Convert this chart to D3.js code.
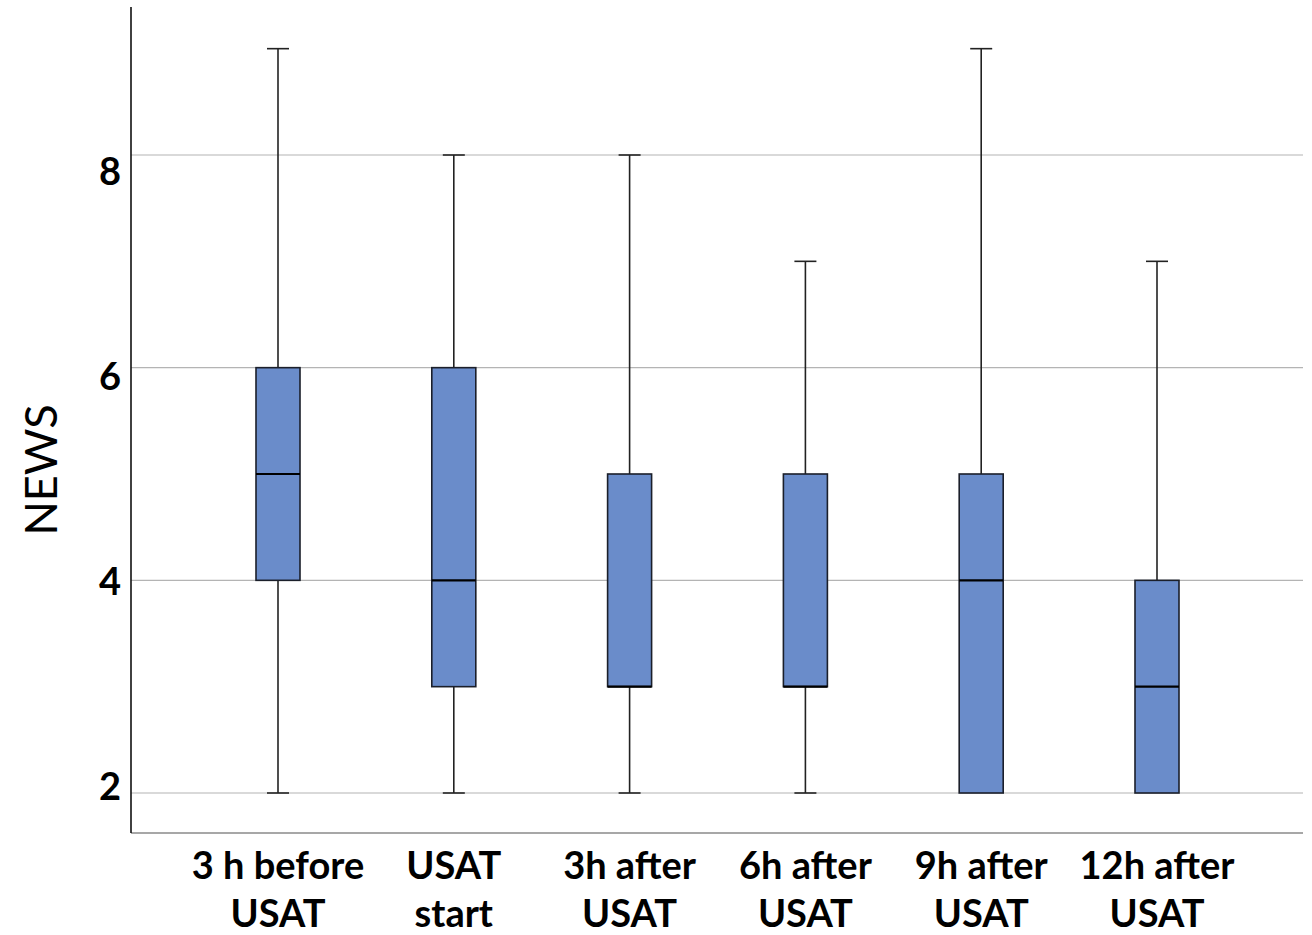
<!DOCTYPE html>
<html>
<head>
<meta charset="utf-8">
<script src="https://cdn.jsdelivr.net/npm/d3@7"></script>
<style>
  html, body { margin: 0; padding: 0; background: #fff; }
  svg { display: block; }
</style>
</head>
<body>
<svg id="chart" width="1312" height="935"></svg>
<script>
const categories = ["3 h before|USAT", "USAT|start", "3h after|USAT", "6h after|USAT", "9h after|USAT", "12h after|USAT"];
const mins    = [2, 2, 2, 2, 2, 2];
const q1s     = [4, 3, 3, 3, 2, 2];
const medians = [5, 4, 3, 3, 4, 3];
const q3s     = [6, 6, 5, 5, 5, 4];
const maxs    = [9, 8, 8, 7, 9, 7];
const yTicks  = [2, 4, 6, 8];
const yTitle  = "NEWS";

const svg = d3.select("#chart");
const axisLeftX = 131, plotRight = 1303, plotTop = 7, plotBottom = 833;

const x = d3.scalePoint().domain(categories).range([278, 1157]);
const y = d3.scaleLinear().domain([2, 8]).range([793, 155]);
// label positions (tick labels in the original are slightly offset from grid lines)
const yLab = d3.scaleLinear().domain([2, 8]).range([y(2) - 8, y(8) + 15]);

const font = "Lato, 'Open Sans', sans-serif";

// gridlines
svg.append("g").selectAll("line").data(yTicks).join("line")
  .attr("x1", axisLeftX).attr("x2", plotRight)
  .attr("y1", d => y(d)).attr("y2", d => y(d))
  .attr("stroke", "#b4b4b4").attr("stroke-width", 1.2);

// axes lines
svg.append("line").attr("x1", axisLeftX).attr("x2", plotRight)
  .attr("y1", plotBottom).attr("y2", plotBottom)
  .attr("stroke", "#8a8a8a").attr("stroke-width", 1.6);
svg.append("line").attr("x1", axisLeftX).attr("x2", axisLeftX)
  .attr("y1", plotTop).attr("y2", plotBottom)
  .attr("stroke", "#111").attr("stroke-width", 1.6);

// y tick labels
svg.append("g").selectAll("text").data(yTicks).join("text")
  .attr("x", 121).attr("y", d => yLab(d))
  .attr("text-anchor", "end").attr("dominant-baseline", "central")
  .attr("font-family", font).attr("font-weight", "bold").attr("font-size", 38)
  .attr("fill", "#000").text(d => d);

// y title
svg.append("text")
  .attr("transform", `translate(40,${(plotTop + plotBottom) / 2 + 50}) rotate(-90)`)
  .attr("text-anchor", "middle").attr("dominant-baseline", "central")
  .attr("font-family", font).attr("font-size", 45).attr("fill", "#000")
  .text(yTitle);

const data = categories.map((c, i) => ({
  c, min: mins[i], q1: q1s[i], med: medians[i], q3: q3s[i], max: maxs[i]
}));

const boxW = 44, capW = 22;
const g = svg.append("g");
const grp = g.selectAll("g.box").data(data).join("g").attr("class", "box");

// upper whisker
grp.append("line")
  .attr("x1", d => x(d.c)).attr("x2", d => x(d.c))
  .attr("y1", d => y(d.q3)).attr("y2", d => y(d.max))
  .attr("stroke", "#222").attr("stroke-width", 1.6);
// lower whisker
grp.append("line")
  .attr("x1", d => x(d.c)).attr("x2", d => x(d.c))
  .attr("y1", d => y(d.q1)).attr("y2", d => y(d.min))
  .attr("stroke", "#222").attr("stroke-width", 1.6);
// caps
grp.append("line")
  .attr("x1", d => x(d.c) - capW / 2).attr("x2", d => x(d.c) + capW / 2)
  .attr("y1", d => y(d.max)).attr("y2", d => y(d.max))
  .attr("stroke", "#222").attr("stroke-width", 1.6);
grp.filter(d => d.min < d.q1).append("line")
  .attr("x1", d => x(d.c) - capW / 2).attr("x2", d => x(d.c) + capW / 2)
  .attr("y1", d => y(d.min)).attr("y2", d => y(d.min))
  .attr("stroke", "#222").attr("stroke-width", 1.6);
// box
grp.append("rect")
  .attr("x", d => x(d.c) - boxW / 2).attr("width", boxW)
  .attr("y", d => y(d.q3)).attr("height", d => y(d.q1) - y(d.q3))
  .attr("fill", "#6a8cca").attr("stroke", "#1b1f2a").attr("stroke-width", 1.6);
// median
grp.append("line")
  .attr("x1", d => x(d.c) - boxW / 2).attr("x2", d => x(d.c) + boxW / 2)
  .attr("y1", d => y(d.med)).attr("y2", d => y(d.med))
  .attr("stroke", "#000").attr("stroke-width", 2.2);

// x labels
const lab = svg.append("g").selectAll("text").data(categories).join("text")
  .attr("x", d => x(d)).attr("text-anchor", "middle")
  .attr("font-family", font).attr("font-weight", "bold").attr("font-size", 38)
  .attr("fill", "#000");
lab.each(function(d) {
  const parts = d.split("|");
  const t = d3.select(this);
  parts.forEach((p, i) => {
    t.append("tspan").attr("x", x(d)).attr("y", 864 + i * 48)
      .attr("dominant-baseline", "central").text(p);
  });
});
</script>
</body>
</html>
